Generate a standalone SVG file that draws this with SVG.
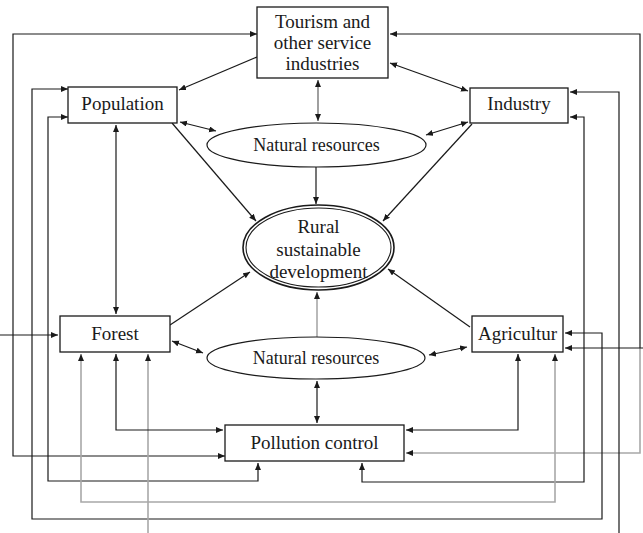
<svg xmlns="http://www.w3.org/2000/svg" width="643" height="533" viewBox="0 0 643 533">
  <defs>
    <marker id="arr" markerUnits="userSpaceOnUse" markerWidth="8" markerHeight="7" refX="7" refY="3" orient="auto-start-reverse">
      <path d="M0,0 L7,3 L0,6 z" fill="#1a1a1a"/>
    </marker>
    <style>
      .box { fill: #fff; stroke: #1a1a1a; stroke-width: 1.3; }
      .ell { fill: #fff; stroke: #1a1a1a; stroke-width: 1.2; }
      .lbl { font-family: "Liberation Serif", "Times New Roman", serif; font-size: 19px; fill: #1a1a1a; text-anchor: middle; }
      .sm { font-size: 18px; }
      .ln { fill: none; stroke: #1a1a1a; stroke-width: 1.2; }
      .gr { fill: none; stroke: #a8a8a8; stroke-width: 1.6; }
      .one { marker-end: url(#arr); }
      .two { marker-start: url(#arr); marker-end: url(#arr); }
    </style>
  </defs>
  <rect width="643" height="533" fill="#fff"/>

  <g id="connectors">
    <!-- outer left loop: Tourism <-> Pollution control -->
    <path class="ln two" d="M225,456 L13,456 L13,34 L257,34"/>
    <!-- outer right loop: Tourism <-> Pollution control -->
    <path class="ln" d="M640,348 L640,34 L390,34" marker-end="url(#arr)"/>
    <path class="gr" d="M640,348 L640,453 L406,453" marker-end="url(#arr)"/>
    <!-- Population <-> Agricultur -->
    <path class="ln two" d="M68,89 L32,89 L32,519 L602,519 L602,333 L565,333"/>
    <!-- Population <-> Pollution control -->
    <path class="ln two" d="M68,117 L48,117 L48,481 L258,481 L258,463"/>
    <!-- Industry <-> Pollution control -->
    <path class="ln two" d="M570,117 L584,117 L584,482 L362,482 L362,463"/>
    <!-- Industry <- lower edge -->
    <path class="ln one" d="M619,533 L619,92 L570,92"/>
    <!-- Forest <- bottom edge -->
    <path class="gr" d="M148,533 L148,354" marker-end="url(#arr)"/>
    <!-- Forest <-> Agricultur -->
    <path class="gr two" d="M81,354 L81,502 L555,502 L555,354"/>
    <!-- Forest <-> Pollution control -->
    <path class="ln two" d="M116,354 L116,430 L223,430"/>
    <!-- Agricultur <-> Pollution control -->
    <path class="ln two" d="M518,354 L518,430 L406,430"/>
    <!-- side inputs -->
    <path class="ln one" d="M0,335 L58,335"/>
    <path class="ln one" d="M643,348 L565,348"/>

    <!-- upper ring -->
    <path class="ln one" d="M257,57 L179,90"/>
    <path class="ln two" d="M390,63 L468,91"/>
    <path class="gr two" d="M318,80 L318,121" style="stroke:#777;stroke-width:1.4"/>
    <path class="ln two" d="M180,122 L216,131"/>
    <path class="ln two" d="M468,122 L426,135"/>
    <path class="ln one" d="M316,167 L316,204"/>
    <path class="ln one" d="M172,123 L256,221"/>
    <path class="ln one" d="M472,124 L383,221"/>
    <path class="ln two" d="M116,125 L116,314"/>

    <!-- lower ring -->
    <path class="ln one" d="M170,325 L250,272"/>
    <path class="ln one" d="M470,327 L388,269"/>
    <path class="gr" d="M317,337 L317,292" marker-end="url(#arr)"/>
    <path class="ln two" d="M172,341 L203,353"/>
    <path class="ln two" d="M467,347 L429,355"/>
    <path class="ln two" d="M317,381 L317,423"/>
  </g>

  <g id="tourism">
    <rect class="box" x="257" y="7" width="131" height="71"/>
    <text class="lbl" x="322.5" y="28">Tourism and</text>
    <text class="lbl" x="322.5" y="49">other service</text>
    <text class="lbl" x="322.5" y="70">industries</text>
  </g>
  <g id="population">
    <rect class="box" x="68" y="87" width="109" height="36"/>
    <text class="lbl" x="122.5" y="110">Population</text>
  </g>
  <g id="industry">
    <rect class="box" x="470" y="88" width="98" height="35"/>
    <text class="lbl" x="519" y="110">Industry</text>
  </g>
  <g id="resources-upper">
    <ellipse class="ell" cx="316.5" cy="145" rx="109.5" ry="22"/>
    <text class="lbl sm" x="316.5" y="151">Natural resources</text>
  </g>
  <g id="rural">
    <ellipse cx="318.5" cy="247.5" rx="75.5" ry="42.5" fill="#fff" stroke="#1a1a1a" stroke-width="1.6"/>
    <ellipse cx="318.5" cy="247.5" rx="72.5" ry="39.5" fill="none" stroke="#1a1a1a" stroke-width="1.1"/>
    <text class="lbl" x="318.5" y="233">Rural</text>
    <text class="lbl" x="318.5" y="256">sustainable</text>
    <text class="lbl" x="318.5" y="278">development</text>
  </g>
  <g id="forest">
    <rect class="box" x="60" y="316" width="110" height="36"/>
    <text class="lbl" x="115" y="340">Forest</text>
  </g>
  <g id="agriculture">
    <rect class="box" x="472" y="316" width="91" height="36"/>
    <text class="lbl" x="517.5" y="340">Agricultur</text>
  </g>
  <g id="resources-lower">
    <ellipse class="ell" cx="316" cy="358" rx="109" ry="21"/>
    <text class="lbl sm" x="316" y="364">Natural resources</text>
  </g>
  <g id="pollution">
    <rect class="box" x="225" y="425" width="179" height="36"/>
    <text class="lbl" x="314.5" y="449">Pollution control</text>
  </g>
</svg>
